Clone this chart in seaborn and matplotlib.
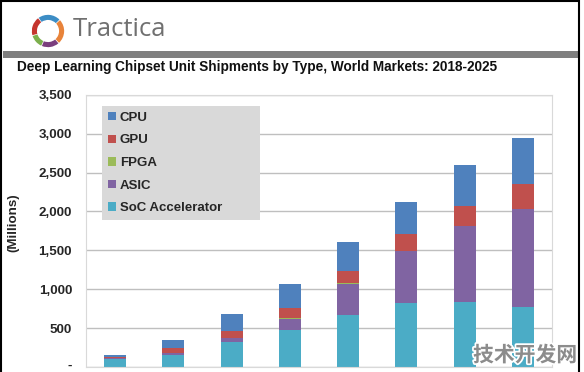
import pandas as pd
import numpy as np
import matplotlib
matplotlib.use("Agg")
import matplotlib.pyplot as plt
import matplotlib.patheffects as pe
import matplotlib.transforms as mtransforms
from matplotlib.patches import Patch, Rectangle, Wedge
import seaborn as sns

# values (millions of units)
years = ["2018", "2019", "2020", "2021", "2022", "2023", "2024", "2025"]
soc = [100, 157, 328, 478, 670, 828, 841, 769]
asic = [15, 20, 43, 146, 404, 664, 972, 1267]
fpga = [1, 1, 4, 2, 2, 2, 2, 2]
gpu = [10, 75, 92, 134, 158, 215, 252, 314]
cpu = [30, 95, 213, 306, 369, 407, 524, 586]

series_names = ["SoC Accelerator", "ASIC", "FPGA", "GPU", "CPU"]
series_vals = [soc, asic, fpga, gpu, cpu]
colors = {"CPU": "#4F81BD", "GPU": "#C0504D", "FPGA": "#9BBB59",
          "ASIC": "#8064A2", "SoC Accelerator": "#4BACC6"}
yticks = [0, 500, 1000, 1500, 2000, 2500, 3000, 3500]
ytick_labels = ["-", "500", "1,000", "1,500", "2,000", "2,500", "3,000", "3,500"]

sns.set_theme(style="white")
plt.rcParams["font.family"] = ["Liberation Sans", "DejaVu Sans"]

W, H = 584, 372
fig = plt.figure(figsize=(W / 100, H / 100), dpi=100)

def px(x, y):
    return x / W, 1 - y / H

# plot area
x0, x1, ytop, ybot = 86, 552, 94.7, 367.2
ax = fig.add_axes([x0 / W, 1 - ybot / H, (x1 - x0) / W, (ybot - ytop) / H])

bottom = np.zeros(len(years))
for name, vals in zip(series_names, series_vals):
    df = pd.DataFrame({"year": years, "value": vals})
    sns.barplot(data=df, x="year", y="value", bottom=bottom, color=colors[name],
                width=0.38, ax=ax, linewidth=0, saturation=1, errorbar=None)
    bottom = bottom + np.array(vals)

ax.set_ylim(0, 3500)
ax.set_xlim(-0.5, len(years) - 0.5)
ax.set_yticks(yticks)
ax.set_yticklabels(ytick_labels, fontsize=9.6, fontweight="bold", color="#262626")
ax.set_xticklabels([])
ax.set_xlabel("")
ax.set_ylabel("(Millions)", fontsize=9.6, fontweight="bold", color="#262626")
ax.yaxis.set_label_coords(-0.142, 0.53)
ax.tick_params(axis="y", length=0, pad=10)
ax.tick_params(axis="x", length=0)
ax.grid(axis="y", color="#BFBFBF", linewidth=1)
ax.set_axisbelow(True)
for s in ax.spines.values():
    s.set_color("#D9D9D9")
    s.set_linewidth(0.8)
# the zero label sits on the cut edge; nudge it up a little
zero_lbl = ax.get_yticklabels()[0]
zero_lbl.set_transform(zero_lbl.get_transform() +
                       mtransforms.ScaledTranslation(0, 2.5 / 100, fig.dpi_scale_trans))

# legend (CPU first, like the original)
handles = [Patch(facecolor=colors[n], edgecolor="none") for n in series_names[::-1]]
lx, ly = px(102, 106)
lw = (260 - 102) / W
leg = fig.legend(handles, series_names[::-1], loc="upper left",
                 bbox_to_anchor=(lx, ly - 0.3, lw, 0.3), mode="expand",
                 frameon=True, fancybox=False, borderaxespad=0,
                 prop={"size": 9.5, "weight": "bold"},
                 handlelength=0.6, handleheight=0.6, handletextpad=0.3,
                 labelspacing=0.8, borderpad=0.45)
leg.get_frame().set_facecolor("#D9D9D9")
leg.get_frame().set_edgecolor("none")
leg.get_frame().set_alpha(1)
for t in leg.get_texts():
    t.set_color("#262626")

# header: title, gray band, logo
fig.text(*px(17, 66.5), "Deep Learning Chipset Unit Shipments by Type, World Markets: 2018-2025",
         fontsize=9.8, fontweight="bold", va="center", ha="left", color="#111111")
fig.patches.append(Rectangle(px(3, 57.5), (578 - 3) / W, 6.5 / H, transform=fig.transFigure,
                             facecolor="#7F7F7F", edgecolor="none"))
fig.patches.append(Rectangle(px(1, 390), (579 - 1) / W, 389 / H, transform=fig.transFigure,
                             facecolor="none", edgecolor="black", linewidth=1.5, clip_on=False))
fig.text(*px(73, 29.5), "Tractica", family=["Open Sans", "DejaVu Sans"], fontsize=18.5,
         color="#707070", va="center", ha="left")

lax = fig.add_axes([*px(31, 48), 34 / W, 34 / H])
lax.set_xlim(-1, 1)
lax.set_ylim(-1, 1)
lax.axis("off")
ring = [(45, 125, "#3C8DC5"), (128, 195, "#C5352E"), (198, 245, "#7CAF4C"),
        (248, 310, "#7A3E7D"), (313, 42, "#E8833A")]
for a0, a1, c in ring:
    lax.add_patch(Wedge((0, 0), 0.95, a0, a1, width=0.3, facecolor=c, edgecolor="none"))

# watermark
fig.text(*px(473, 355), "技术开发网", family=["Noto Sans CJK SC", "DejaVu Sans"],
         fontsize=15, fontweight="bold", color="#8C8C8C", va="center", ha="left",
         path_effects=[pe.withStroke(linewidth=2.5, foreground="white")])

fig.savefig("out.png", dpi=100)
